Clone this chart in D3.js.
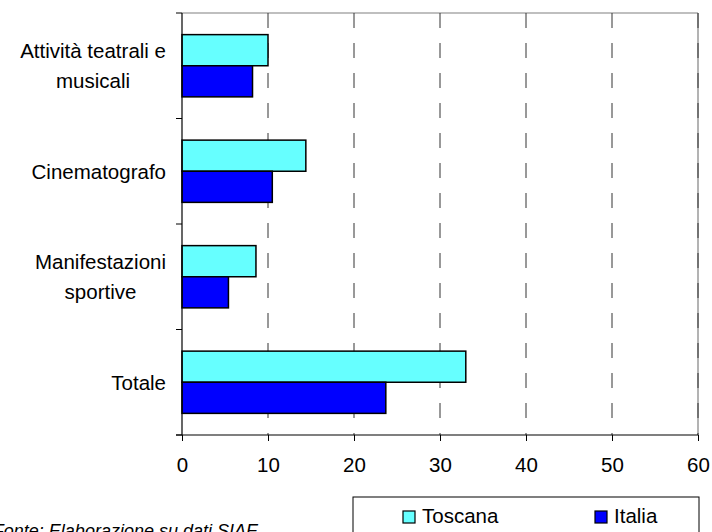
<!DOCTYPE html>
<html><head><meta charset="utf-8">
<script src="https://cdn.jsdelivr.net/npm/d3@7/dist/d3.min.js"></script>
<style>body{margin:0;background:#fff}svg{display:block}text{font-family:"Liberation Sans",Arial,sans-serif}</style>
</head><body>
<svg id="c" width="712" height="532"></svg>
<script>
const categories = [["Attività teatrali e","musicali"],["Cinematografo"],["Manifestazioni","sportive"],["Totale"]];
const seriesNames = ["Toscana","Italia"];
const toscana = [10.0, 14.4, 8.6, 33.0];
const italia = [8.2, 10.5, 5.4, 23.7];
const xTicks = [0,10,20,30,40,50,60];
const colors = ["#66FFFF","#0000FF"];
const footnote = "Fonte: Elaborazione su dati SIAE";

const svg = d3.select("#c");
const L = 182, R = 698, T = 13, B = 435;
const FS = 20.5;
const x = d3.scaleLinear().domain([0,60]).range([L,R]);
const keys = categories.map((c,i)=>i);
const y0 = d3.scaleBand().domain(keys).range([T,B]).paddingInner(0.41).paddingOuter(0.205);
const y1 = d3.scaleBand().domain(seriesNames).range([0,y0.bandwidth()]);

// plot border top/right
svg.append("line").attr("x1",L).attr("x2",R).attr("y1",T).attr("y2",T).attr("stroke","#808080").attr("stroke-width",1.2);
svg.append("line").attr("x1",R).attr("x2",R).attr("y1",T).attr("y2",B).attr("stroke","#808080").attr("stroke-width",1.2);

// gridlines
svg.append("g").selectAll("line").data(xTicks.filter(d=>d>0)).join("line")
  .attr("x1",d=>x(d)).attr("x2",d=>x(d)).attr("y1",T).attr("y2",B)
  .attr("stroke","#333").attr("stroke-width",1).attr("stroke-dasharray","15,15");

// bars
const data = keys.map(i=>({i, vals:[toscana[i], italia[i]]}));
const g = svg.append("g");
data.forEach(d=>{
  d.vals.forEach((v,s)=>{
    g.append("rect").attr("x",x(0)).attr("y",y0(d.i)+y1(seriesNames[s]))
      .attr("width",x(v)-x(0)).attr("height",y1.bandwidth())
      .attr("fill",colors[s]).attr("stroke","#000").attr("stroke-width",1.5);
  });
});

// x axis
const xa = svg.append("g").attr("transform",`translate(0,${B})`)
  .call(d3.axisBottom(x).tickValues(xTicks).tickSize(6).tickSizeOuter(0).tickPadding(16));
xa.select(".domain").remove();
xa.selectAll("line").attr("stroke","#000");
xa.selectAll("text").attr("font-size",FS).attr("fill","#000").attr("font-family","Liberation Sans, Arial, sans-serif");
svg.append("line").attr("x1",L-6).attr("x2",R).attr("y1",B).attr("y2",B).attr("stroke","#000").attr("stroke-width",1.2);

// y axis
svg.append("line").attr("x1",L).attr("x2",L).attr("y1",T).attr("y2",B).attr("stroke","#000").attr("stroke-width",1.2);
const bounds = d3.range(categories.length+1).map(i=>T + i*y0.step());
svg.append("g").selectAll("line").data(bounds).join("line")
  .attr("x1",L-6).attr("x2",L).attr("y1",d=>d).attr("y2",d=>d).attr("stroke","#000");

// category labels
const labelRight = 166;
keys.forEach(i=>{
  const lines = categories[i];
  const cy = y0(i) + y0.bandwidth()/2;
  const t = svg.append("text").attr("font-size",FS).attr("fill","#000").attr("text-anchor","middle");
  const tmp = svg.append("text").attr("font-size",FS);
  let maxW = 0;
  lines.forEach(l=>{ tmp.text(l); maxW = Math.max(maxW, tmp.node().getComputedTextLength()); });
  tmp.remove();
  const cx = labelRight - maxW/2;
  const lh = 30;
  lines.forEach((l,k)=>{
    t.append("tspan").attr("x",cx).attr("y", cy + (k - (lines.length-1)/2)*lh + 7.5).text(l);
  });
});

// legend
svg.append("rect").attr("x",353).attr("y",497).attr("width",346).attr("height",60)
  .attr("fill","#fff").attr("stroke","#000").attr("stroke-width",1);
const legX = [403, 595];
seriesNames.forEach((n,s)=>{
  svg.append("rect").attr("x",legX[s]).attr("y",511).attr("width",12).attr("height",12)
    .attr("fill",colors[s]).attr("stroke","#000").attr("stroke-width",1.2);
  svg.append("text").attr("x",legX[s]+19).attr("y",522.5).attr("font-size",FS).attr("fill","#000").text(n);
});

// footnote (cut off at the page edges, as in the reference)
const fn = svg.append("text").attr("y",537).attr("font-size",18).attr("font-style","italic").attr("fill","#000").text(footnote);
const w = fn.node().getComputedTextLength();
fn.attr("x", 258 - w);
</script>
</body></html>
